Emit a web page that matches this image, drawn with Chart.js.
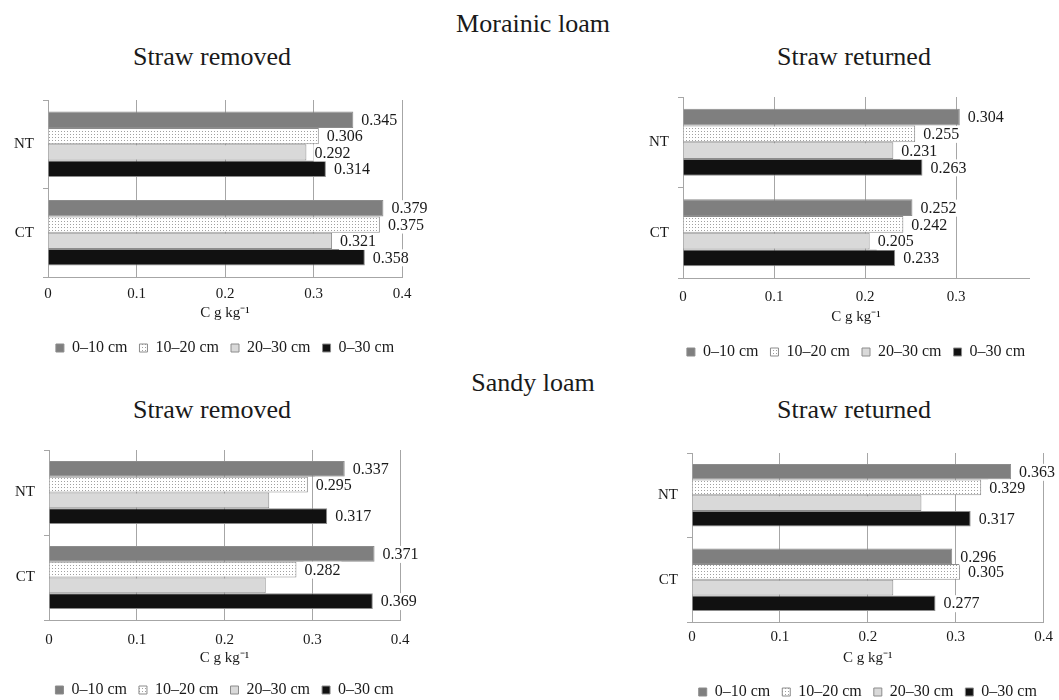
<!DOCTYPE html>
<html>
<head>
<meta charset="utf-8">
<script src="https://cdn.jsdelivr.net/npm/chart.js@4"></script>
<style>
  body { margin: 0; background: #fff; }
  #page { position: relative; width: 1059px; height: 700px; overflow: hidden; font-family: 'Liberation Serif', serif; color: #1a1a1a; }
  .head { position: absolute; transform: translate(-50%, -50%); white-space: nowrap; font-size: 26px; }
  .box { position: absolute; }
</style>
</head>
<body>
<div id="page">
  <div class="head" style="left:533px; top:24px;">Morainic loam</div>
  <div class="head" style="left:212px; top:57px;">Straw removed</div>
  <div class="head" style="left:854px; top:57px;">Straw returned</div>
  <div class="head" style="left:533px; top:383px;">Sandy loam</div>
  <div class="head" style="left:212px; top:410px;">Straw removed</div>
  <div class="head" style="left:854px; top:410px;">Straw returned</div>

  <div class="box" style="left:0px; top:82px; width:430px; height:284px;"><canvas id="morRemoved"></canvas></div>
  <div class="box" style="left:640px; top:79px; width:419px; height:291px;"><canvas id="morReturned"></canvas></div>
  <div class="box" style="left:0px; top:432px; width:430px; height:276px;"><canvas id="sandRemoved"></canvas></div>
  <div class="box" style="left:640px; top:435px; width:419px; height:275px;"><canvas id="sandReturned"></canvas></div>
</div>
<script>
const treatments = ['NT', 'CT'];
const depths = ['0–10 cm', '10–20 cm', '20–30 cm', '0–30 cm'];

// values per depth: [NT, CT]
const morRemoved = [[0.345, 0.379], [0.306, 0.375], [0.292, 0.321], [0.314, 0.358]];
const morReturned = [[0.304, 0.252], [0.255, 0.242], [0.231, 0.205], [0.263, 0.233]];
const sandRemoved = [[0.337, 0.371], [0.295, 0.282], [0.251, 0.247], [0.317, 0.369]];
const sandReturned = [[0.363, 0.296], [0.329, 0.305], [0.261, 0.229], [0.317, 0.277]];

// which depths carry a value label
const morLabelled = [true, true, true, true];
const sandLabelled = [true, true, false, true];

const serif = 'Liberation Serif';
const gridGrey = '#a6a6a6';

function dotPattern() {
    const c = document.createElement('canvas');
    c.width = 3; c.height = 3;
    const g = c.getContext('2d');
    g.fillStyle = '#ffffff';
    g.fillRect(0, 0, 3, 3);
    g.fillStyle = '#a0a0a0';
    g.fillRect(1, 1, 1, 1);
    return g.createPattern(c, 'repeat');
}

const fills = ['#7f7f7f', dotPattern(), '#d9d9d9', '#111111'];

const valueLabels = {
    id: 'valueLabels',
    afterDatasetsDraw(chart, args, opts) {
        const ctx = chart.ctx;
        ctx.save();
        ctx.font = '16px ' + serif;
        ctx.textBaseline = 'middle';
        chart.data.datasets.forEach((ds, i) => {
            if (!opts.show[i]) return;
            chart.getDatasetMeta(i).data.forEach((bar, j) => {
                const txt = ds.data[j].toFixed(3);
                const x = bar.x + 8;
                const w = ctx.measureText(txt).width;
                ctx.fillStyle = '#fff';
                ctx.fillRect(x - 1, bar.y - 8, w + 2, 17);
                ctx.fillStyle = '#1a1a1a';
                ctx.fillText(txt, x, bar.y + 1);
            });
        });
        ctx.restore();
    }
};

// centre the legend under the plot area rather than the whole canvas
const legendUnderPlot = {
    id: 'legendUnderPlot',
    afterLayout(chart) {
        const lg = chart.legend;
        const a = chart.chartArea;
        lg.left = a.left - 12;
        lg.right = a.right + 12;
        lg.width = lg.right - lg.left;
    }
};

function makeChart(id, values, labelled, cfg) {
    const ctx = document.getElementById(id).getContext('2d');
    return new Chart(ctx, {
        type: 'bar',
        data: {
            labels: treatments,
            datasets: depths.map((d, i) => ({
                label: d,
                data: values[i],
                backgroundColor: fills[i],
                borderColor: '#8c8c8c',
                borderWidth: 1,
                categoryPercentage: 0.74,
                barPercentage: 1.0
            }))
        },
        options: {
            indexAxis: 'y',
            responsive: true,
            maintainAspectRatio: false,
            animation: false,
            layout: { padding: { left: 0, top: 18, right: cfg.padRight, bottom: 0 } },
            plugins: {
                legend: {
                    position: 'bottom',
                    labels: {
                        boxWidth: 8,
                        boxHeight: 8,
                        padding: 12,
                        color: '#1a1a1a',
                        font: { family: serif, size: 16 }
                    }
                },
                tooltip: { enabled: false },
                valueLabels: { show: labelled }
            },
            scales: {
                x: {
                    min: 0,
                    max: cfg.xMax,
                    afterBuildTicks: axis => {
                        axis.ticks = axis.ticks.filter(t => Math.abs(t.value * 10 - Math.round(t.value * 10)) < 1e-6);
                    },
                    afterFit: scale => { scale.height = cfg.xHeight; },
                    grid: { color: gridGrey, drawTicks: false },
                    border: { color: gridGrey },
                    ticks: {
                        stepSize: 0.1,
                        padding: cfg.tickPad,
                        color: '#1a1a1a',
                        font: { family: serif, size: 15 },
                        callback: v => String(+v.toFixed(1))
                    },
                    title: {
                        display: true,
                        text: 'C g kg⁻¹',
                        color: '#1a1a1a',
                        font: { family: serif, size: 15 },
                        padding: { top: 0, bottom: cfg.titlePad }
                    }
                },
                y: {
                    afterFit: scale => { scale.width = cfg.yWidth; },
                    grid: { drawOnChartArea: false, drawTicks: true, tickLength: 5, color: gridGrey, offset: true },
                    border: { color: gridGrey },
                    ticks: {
                        padding: 9,
                        color: '#1a1a1a',
                        font: { family: serif, size: 15 }
                    }
                }
            }
        },
        plugins: [valueLabels, legendUnderPlot]
    });
}

makeChart('morRemoved', morRemoved, morLabelled,
    { xMax: 0.4, padRight: 28, yWidth: 48, xHeight: 51, tickPad: 8, titlePad: 6 });
makeChart('morReturned', morReturned, morLabelled,
    { xMax: 0.38, padRight: 30, yWidth: 43, xHeight: 54, tickPad: 10, titlePad: 6 });
makeChart('sandRemoved', sandRemoved, sandLabelled,
    { xMax: 0.4, padRight: 30, yWidth: 49, xHeight: 50, tickPad: 11, titlePad: 3 });
makeChart('sandReturned', sandReturned, sandLabelled,
    { xMax: 0.4, padRight: 13, yWidth: 52, xHeight: 50, tickPad: 6, titlePad: 5 });
</script>
</body>
</html>
